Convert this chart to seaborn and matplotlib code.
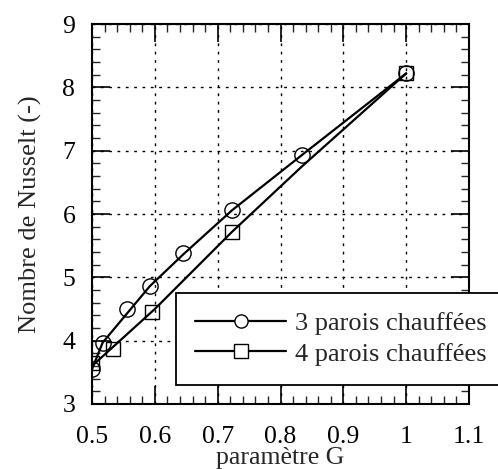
import matplotlib
matplotlib.use("Agg")
import matplotlib.pyplot as plt
import seaborn as sns
from matplotlib.lines import Line2D
from matplotlib.ticker import MultipleLocator

# Data: 3 walls heated (circles), 4 walls heated (squares)
g3_line = [0.500, 0.517, 0.592, 0.645, 0.723, 0.834, 1.000]
nu3_line = [3.55, 3.97, 4.86, 5.36, 6.06, 6.93, 8.22]
g3_pts = [0.500, 0.517, 0.556, 0.592, 0.645, 0.723, 0.834, 1.000]
nu3_pts = [3.55, 3.97, 4.50, 4.86, 5.38, 6.07, 6.93, 8.22]

g4_line = [0.500, 0.600, 0.723, 0.834, 1.000]
nu4_line = [3.60, 4.50, 5.72, 6.75, 8.22]
g4_pts = [0.500, 0.533, 0.595, 0.723, 1.000]
nu4_pts = [3.65, 3.87, 4.45, 5.72, 8.22]

xticks = [0.5, 0.6, 0.7, 0.8, 0.9, 1.0, 1.1]
xticklabels = ["0.5", "0.6", "0.7", "0.8", "0.9", "1", "1.1"]
yticks = [3, 4, 5, 6, 7, 8, 9]
labels = ["3 parois chauffées", "4 parois chauffées"]

sns.set_style("ticks")
plt.rcParams["font.family"] = ["Liberation Serif", "DejaVu Serif"]

fig = plt.figure(figsize=(4.98, 4.69), dpi=100)
ax = fig.add_axes([92/498, 1-404/469, (469-92)/498, (404-24)/469])

lw = 1.6
sns.lineplot(x=g3_line, y=nu3_line, ax=ax, color="black", lw=lw, sort=False, legend=False)
sns.lineplot(x=g4_line, y=nu4_line, ax=ax, color="black", lw=lw, sort=False, legend=False)
ax.plot(g3_pts, nu3_pts, ls="none", marker="o", ms=11, mfc="none", mec="black", mew=1.0)
ax.plot(g4_pts, nu4_pts, ls="none", marker="s", ms=10, mfc="none", mec="black", mew=1.0)

ax.set_xlim(0.5, 1.1)
ax.set_ylim(3, 9)
ax.set_xticks(xticks)
ax.set_xticklabels(xticklabels)
ax.set_yticks(yticks)
ax.xaxis.set_minor_locator(MultipleLocator(0.02))
ax.yaxis.set_minor_locator(MultipleLocator(0.2))
ax.tick_params(which="major", direction="in", length=13, width=1.2, top=True, right=True,
               labelsize=18.5, colors="black")
ax.tick_params(axis="x", which="major", pad=16)
ax.tick_params(axis="y", which="major", pad=12)
ax.tick_params(which="minor", direction="in", length=6, width=1.0, top=True, right=True)
for s in ax.spines.values():
    s.set_linewidth(1.5)
    s.set_color("black")
ax.grid(True, which="major", color="black", ls=(0, (2, 4)), lw=1.0)

ax.set_xlabel("paramètre G", fontsize=18.5, labelpad=-1)
ax.set_ylabel("Nombre de Nusselt (-)", fontsize=19, labelpad=15)

handles = [
    Line2D([], [], color="black", lw=lw, marker="o", ms=9.5, mfc="white", mec="black", mew=1.0),
    Line2D([], [], color="black", lw=lw, marker="s", ms=9.5, mfc="white", mec="black", mew=1.0),
]
leg = fig.legend(handles, labels, loc="upper left", bbox_to_anchor=(176/498, 1-293/469),
                 fontsize=19, frameon=True, fancybox=False, framealpha=1,
                 edgecolor="black", handlelength=3.45, borderpad=0.72, labelspacing=0.25,
                 handletextpad=0.35, borderaxespad=0)
leg.get_frame().set_linewidth(1.3)

fig.savefig("out.png", dpi=100)
